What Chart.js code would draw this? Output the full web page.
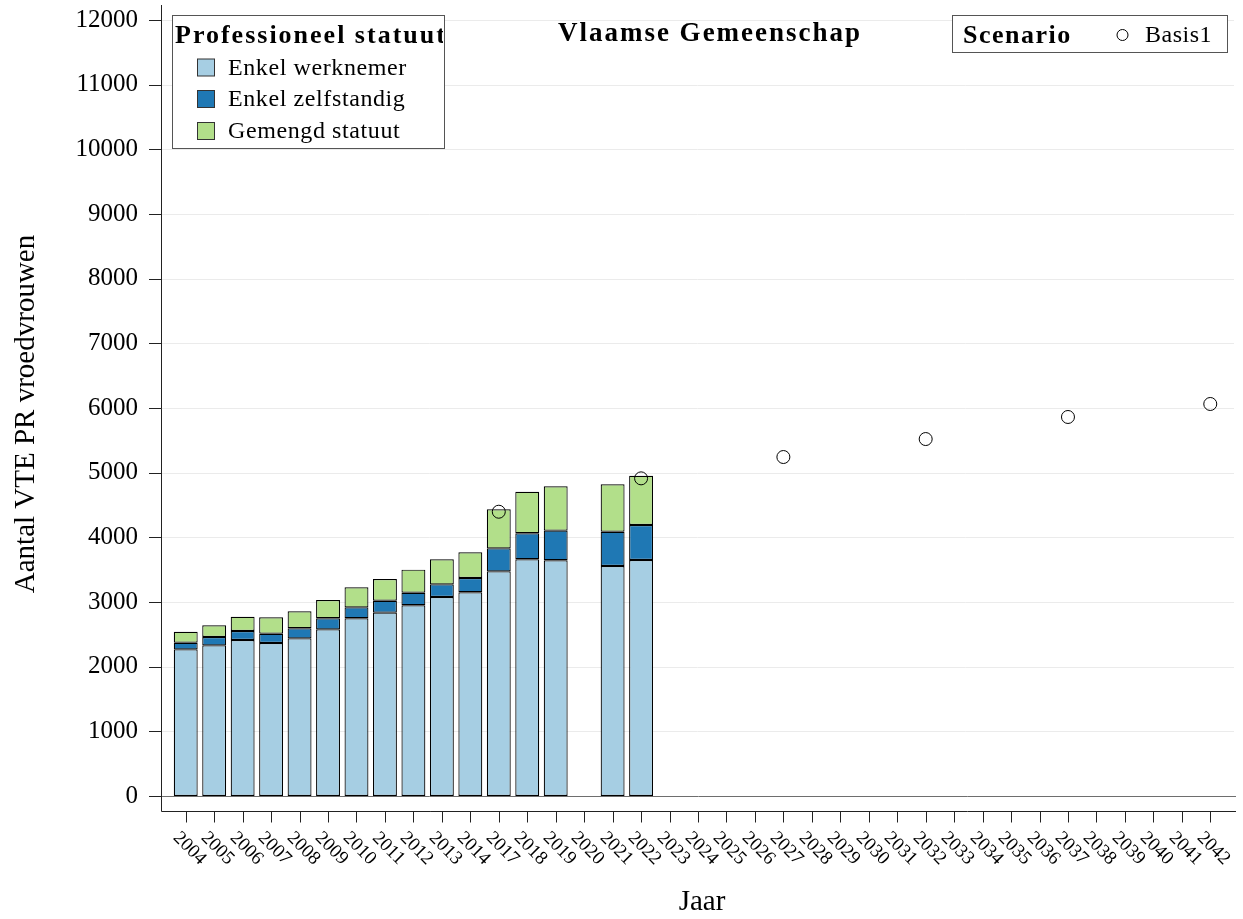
<!DOCTYPE html>
<html>
<head>
<meta charset="utf-8">
<script src="https://cdn.jsdelivr.net/npm/chart.js@4/dist/chart.umd.min.js"></script>
<style>
  body { margin: 0; background: #fff; }
</style>
</head>
<body>
<canvas id="chart" width="1243" height="919"></canvas>
<script>
// categories (2015 and 2016 are not in the data)
const years = ["2004", "2005", "2006", "2007", "2008", "2009", "2010", "2011", "2012", "2013", "2014",
  "2017", "2018", "2019", "2020", "2021", "2022", "2023", "2024", "2025", "2026", "2027", "2028", "2029",
  "2030", "2031", "2032", "2033", "2034", "2035", "2036", "2037", "2038", "2039", "2040", "2041", "2042"];

// bars, 2004 .. 2022 (2020 missing)
const werknemer = [2268, 2330, 2412, 2366, 2438, 2577, 2748, 2835, 2949, 3077, 3150, 3474, 3660, 3645, null, 3557, 3650];
const zelfstandig = [103, 129, 139, 144, 155, 171, 169, 185, 195, 196, 221, 356, 402, 458, null, 530, 541];
const gemengd = [170, 180, 222, 253, 263, 283, 310, 336, 356, 387, 397, 603, 644, 686, null, 733, 762];

// scenario points
const basisYears = ["2017", "2022", "2027", "2032", "2037", "2042"];
const basis1 = [4396, 4912, 5242, 5520, 5861, 6062];

const yTicks = [0, 1000, 2000, 3000, 4000, 5000, 6000, 7000, 8000, 9000, 10000, 11000, 12000];

const serif = "'Liberation Serif', 'Times New Roman', serif";

function series(arr) {
  return years.map((y, i) => (i < arr.length ? arr[i] : null));
}

//draws the R style axes, labels, titles and both legends
const decor = {
  id: "decor",
  beforeDatasetsDraw(chart) {
    const ctx = chart.ctx;
    const y = chart.scales.y;
    ctx.save();
    ctx.lineWidth = 1;
    yTicks.forEach((v) => {
      if (v === 0) return;
      const py = Math.round(y.getPixelForValue(v)) + 0.5;
      ctx.strokeStyle = "#ebebeb";
      ctx.beginPath();
      ctx.moveTo(161, py);
      ctx.lineTo(1234, py);
      ctx.stroke();
    });
    ctx.restore();
  },
  afterDatasetsDraw(chart) {
    const ctx = chart.ctx;
    const x = chart.scales.x;
    const y = chart.scales.y;
    const zero = Math.round(y.getPixelForValue(0)) + 0.5;
    const axisY = zero + 15;
    ctx.save();
    ctx.lineWidth = 1;

    // zero line
    ctx.strokeStyle = "#6e6e6e";
    ctx.beginPath();
    ctx.moveTo(161, zero);
    ctx.lineTo(1236, zero);
    ctx.stroke();

    // axis lines
    ctx.strokeStyle = "#222";
    ctx.beginPath();
    ctx.moveTo(161.5, 5);
    ctx.lineTo(161.5, axisY);
    ctx.lineTo(1236, axisY);
    ctx.stroke();

    // y ticks
    yTicks.forEach((v) => {
      const py = Math.round(y.getPixelForValue(v)) + 0.5;
      ctx.beginPath();
      ctx.moveTo(149, py);
      ctx.lineTo(161.5, py);
      ctx.stroke();
    });

    // x ticks + rotated labels
    ctx.fillStyle = "#000";
    ctx.font = "19px " + serif;
    ctx.textAlign = "center";
    ctx.textBaseline = "middle";
    years.forEach((label, i) => {
      const px = Math.round(x.getPixelForValue(i)) + 0.5;
      ctx.beginPath();
      ctx.moveTo(px, axisY);
      ctx.lineTo(px, axisY + 11);
      ctx.stroke();
      ctx.save();
      ctx.translate(px + 3, axisY + 37);
      ctx.rotate(Math.PI / 4);
      ctx.fillText(label, 0, 0);
      ctx.restore();
    });

    // axis titles
    ctx.font = "29px " + serif;
    ctx.fillText("Jaar", 702, 902);
    ctx.save();
    ctx.translate(26, 414);
    ctx.rotate(-Math.PI / 2);
    ctx.fillText("Aantal VTE PR vroedvrouwen", 0, 0);
    ctx.restore();

    // title
    ctx.font = "bold 27px " + serif;
    ctx.letterSpacing = "2px";
    ctx.fillText("Vlaamse Gemeenschap", 710, 34);
    ctx.letterSpacing = "0px";

    // legend 1: Professioneel statuut
    ctx.fillStyle = "#fff";
    ctx.fillRect(172, 15, 272, 133);
    ctx.strokeStyle = "#555";
    ctx.strokeRect(172.5, 15.5, 272, 133);
    ctx.save();
    ctx.beginPath();
    ctx.rect(173, 16, 270, 131);
    ctx.clip();
    ctx.fillStyle = "#000";
    ctx.textAlign = "left";
    ctx.font = "bold 26px " + serif;
    ctx.letterSpacing = "2px";
    ctx.fillText("Professioneel statuut", 175, 36);
    ctx.letterSpacing = "0px";
    ctx.restore();
    const items = [
      ["Enkel werknemer", "#a6cee3", 67.5],
      ["Enkel zelfstandig", "#1f78b4", 99],
      ["Gemengd statuut", "#b2df8a", 131],
    ];
    ctx.textAlign = "left";
    ctx.font = "24px " + serif;
    ctx.letterSpacing = "0.6px";
    items.forEach(([txt, col, cy]) => {
      ctx.fillStyle = col;
      ctx.fillRect(197.5, cy - 8.5, 17, 17);
      ctx.strokeStyle = "#333";
      ctx.strokeRect(197.5, cy - 8.5, 17, 17);
      ctx.fillStyle = "#000";
      ctx.fillText(txt, 228, cy + 1);
    });
    ctx.letterSpacing = "0px";

    // legend 2: Scenario
    ctx.fillStyle = "#fff";
    ctx.fillRect(952, 15, 275, 37);
    ctx.strokeStyle = "#555";
    ctx.strokeRect(952.5, 15.5, 275, 37);
    ctx.fillStyle = "#000";
    ctx.font = "bold 26px " + serif;
    ctx.letterSpacing = "1.5px";
    ctx.fillText("Scenario", 963, 36);
    ctx.letterSpacing = "0px";
    ctx.beginPath();
    ctx.arc(1122.5, 35, 5.5, 0, Math.PI * 2);
    ctx.strokeStyle = "#000";
    ctx.stroke();
    ctx.font = "24px " + serif;
    ctx.letterSpacing = "0.5px";
    ctx.fillText("Basis1", 1145, 36);
    ctx.letterSpacing = "0px";
    ctx.restore();
  },
};

const ctx = document.getElementById("chart").getContext("2d");
const chart = new Chart(ctx, {
  type: "bar",
  data: {
    labels: years,
    datasets: [
      {
        label: "Enkel werknemer",
        data: series(werknemer),
        backgroundColor: "#a6cee3",
        borderColor: "#000",
        borderWidth: 1.2,
        borderSkipped: false,
        stack: "statuut",
        order: 2,
      },
      {
        label: "Enkel zelfstandig",
        data: series(zelfstandig),
        backgroundColor: "#1f78b4",
        borderColor: "#000",
        borderWidth: 1.2,
        borderSkipped: false,
        stack: "statuut",
        order: 2,
      },
      {
        label: "Gemengd statuut",
        data: series(gemengd),
        backgroundColor: "#b2df8a",
        borderColor: "#000",
        borderWidth: 1.2,
        borderSkipped: false,
        stack: "statuut",
        order: 2,
      },
      {
        type: "line",
        label: "Basis1",
        data: basisYears.map((yr, i) => ({ x: yr, y: basis1[i] })),
        showLine: false,
        pointStyle: "circle",
        pointRadius: 6.5,
        pointBorderWidth: 1,
        pointBorderColor: "#000",
        pointBackgroundColor: "rgba(0,0,0,0)",
        stack: "basis",
        order: 1,
      },
    ],
  },
  options: {
    responsive: false,
    animation: false,
    devicePixelRatio: 1,
    layout: { padding: { left: 0, right: 18.5, top: 20, bottom: 0 } },
    plugins: {
      legend: { display: false },
      tooltip: { enabled: false },
      title: { display: false },
    },
    datasets: { bar: { categoryPercentage: 1, barPercentage: 0.84 } },
    scales: {
      x: {
        stacked: true,
        grid: { display: false },
        border: { display: false },
        ticks: { display: false },
        afterFit: (scale) => {
          scale.height = 123;
          scale.paddingLeft = 0;
          scale.paddingRight = 0;
        },
      },
      y: {
        stacked: true,
        min: 0,
        max: 12000,
        grid: { display: false },
        border: { display: false },
        ticks: {
          stepSize: 1000,
          padding: 25.5,
          color: "#000",
          font: { family: serif, size: 25 },
          callback: (v) => String(v),
        },
        afterFit: (scale) => {
          scale.width = 171.5;
          scale.paddingTop = 0;
          scale.paddingBottom = 0;
        },
      },
    },
  },
  plugins: [decor],
});
</script>
</body>
</html>
